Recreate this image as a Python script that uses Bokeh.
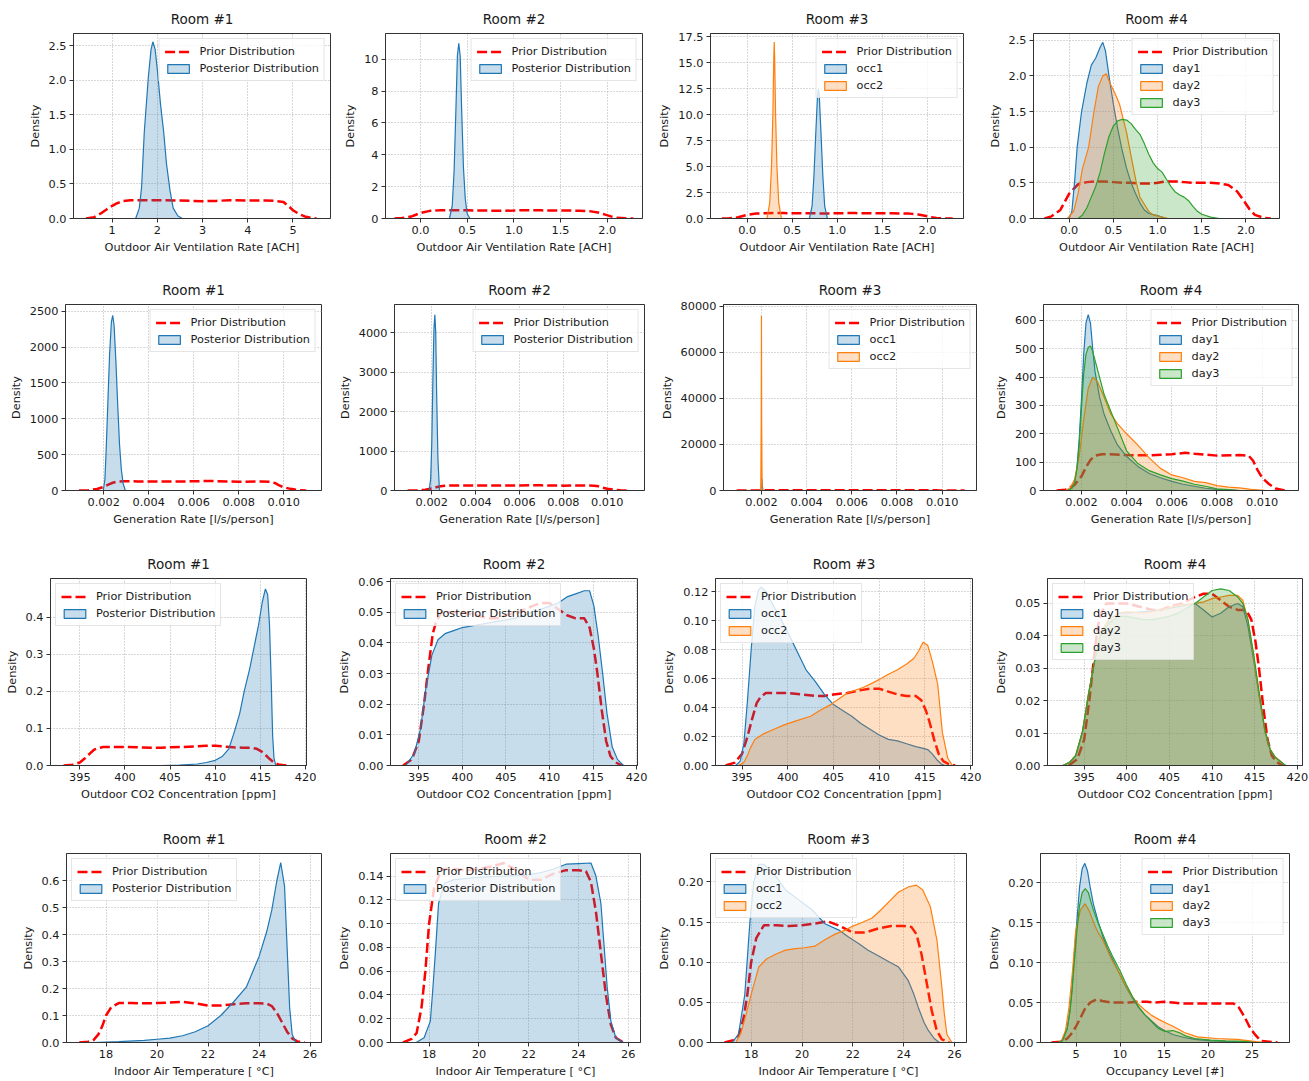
from bokeh.plotting import figure
from bokeh.layouts import column, row
from bokeh.models import Range1d, FixedTicker, PrintfTickFormatter, Legend, LegendItem
from bokeh.embed import file_html
from bokeh.resources import INLINE

# ---------------- DATA ----------------
room_titles = ["Room #1", "Room #2", "Room #3", "Room #4"]
row_xlabels = ["Outdoor Air Ventilation Rate [ACH]", "Generation Rate [l/s/person]",
               "Outdoor CO2 Concentration [ppm]", "Indoor Air Temperature [ \u00b0C]"]
xlabel_occ = "Occupancy Level [#]"
ylabel = "Density"
prior_label = "Prior Distribution"
post_label = "Posterior Distribution"
occ_labels = ["occ1", "occ2"]
day_labels = ["day1", "day2", "day3"]

# --- Row 1: ventilation rate ---
prior_vent1_x = [0.42, 0.6, 0.74, 0.85, 0.96, 1.1, 1.25, 1.4, 1.7, 2.0, 2.5, 3.0, 3.3, 3.6, 4.0, 4.4, 4.6, 4.79, 4.9, 5.0, 5.12, 5.26, 5.4, 5.52]
prior_vent1_y = [0, 0.02, 0.07, 0.12, 0.168, 0.22, 0.255, 0.265, 0.265, 0.265, 0.26, 0.25, 0.255, 0.265, 0.26, 0.26, 0.255, 0.24, 0.18, 0.12, 0.07, 0.03, 0.01, 0]
post_vent1_x = [1.52, 1.6, 1.65, 1.71, 1.8, 1.86, 1.9, 1.95, 2.0, 2.07, 2.14, 2.2, 2.28, 2.35, 2.45, 2.55]
post_vent1_y = [0, 0.15, 0.45, 1.25, 2.05, 2.45, 2.56, 2.45, 2.15, 1.65, 1.25, 0.8, 0.4, 0.15, 0.04, 0]

prior_vent_x = [-0.28, -0.2, -0.1, 0.0, 0.1, 0.2, 0.3, 0.4, 0.5, 0.6, 0.7, 0.8, 0.9, 1.0, 1.1, 1.2, 1.3, 1.4, 1.5, 1.6, 1.7, 1.8, 1.9, 1.97, 2.04, 2.1, 2.2, 2.28]
prior_vent_y = [0, 0.03, 0.12, 0.35, 0.48, 0.51, 0.52, 0.52, 0.51, 0.5, 0.5, 0.49, 0.49, 0.5, 0.52, 0.52, 0.51, 0.5, 0.5, 0.5, 0.49, 0.47, 0.38, 0.26, 0.13, 0.05, 0.01, 0]
post_vent2_x = [0.31, 0.34, 0.36, 0.38, 0.395, 0.41, 0.425, 0.44, 0.46, 0.48, 0.5, 0.53]
post_vent2_y = [0, 0.8, 3, 7, 10.2, 11.0, 10.2, 7, 3.2, 1.2, 0.3, 0]
occ1_vent3_x = [0.69, 0.72, 0.74, 0.76, 0.78, 0.79, 0.80, 0.82, 0.84, 0.86, 0.89]
occ1_vent3_y = [0, 1.2, 4, 8, 11.8, 12.5, 11.8, 8, 4, 1.2, 0]
occ2_vent3_x = [0.22, 0.25, 0.27, 0.285, 0.295, 0.30, 0.305, 0.315, 0.33, 0.35, 0.38]
occ2_vent3_y = [0, 1.5, 5, 10, 15.5, 17, 15.5, 10, 5, 1.5, 0]
day1_vent4_x = [0.0, 0.03, 0.06, 0.09, 0.14, 0.2, 0.25, 0.3, 0.35, 0.38, 0.41, 0.45, 0.5, 0.55, 0.6, 0.65, 0.7, 0.75, 0.8, 0.85, 0.9, 1.0, 1.05, 1.1]
day1_vent4_y = [0, 0.1, 0.5, 1.0, 1.5, 1.9, 2.15, 2.25, 2.4, 2.47, 2.35, 2.0, 1.6, 1.25, 0.95, 0.7, 0.5, 0.35, 0.22, 0.12, 0.07, 0.04, 0.02, 0]
day2_vent4_x = [-0.02, 0.05, 0.1, 0.15, 0.22, 0.28, 0.33, 0.38, 0.42, 0.46, 0.52, 0.57, 0.6, 0.65, 0.68, 0.72, 0.76, 0.8, 0.85, 0.9, 0.95, 1.05, 1.12]
day2_vent4_y = [0, 0.1, 0.35, 0.7, 1.0, 1.5, 1.85, 2.0, 2.03, 1.9, 1.75, 1.6, 1.45, 1.2, 1.0, 0.75, 0.5, 0.3, 0.2, 0.1, 0.05, 0.02, 0]
day3_vent4_x = [0.1, 0.15, 0.2, 0.25, 0.3, 0.35, 0.4, 0.45, 0.5, 0.55, 0.6, 0.65, 0.7, 0.75, 0.8, 0.85, 0.9, 0.95, 1.0, 1.05, 1.1, 1.15, 1.2, 1.25, 1.3, 1.35, 1.4, 1.45, 1.5, 1.6, 1.7]
day3_vent4_y = [0, 0.05, 0.15, 0.3, 0.45, 0.65, 0.92, 1.15, 1.3, 1.37, 1.39, 1.38, 1.33, 1.25, 1.18, 1.05, 0.9, 0.78, 0.7, 0.65, 0.55, 0.45, 0.37, 0.33, 0.3, 0.25, 0.17, 0.1, 0.06, 0.02, 0]

# --- Row 2: generation rate ---
prior_gen_x = [0.0009, 0.0013, 0.0017, 0.002, 0.0022, 0.0024, 0.0026, 0.0029, 0.0035, 0.004, 0.005, 0.006, 0.0066, 0.007, 0.008, 0.009, 0.0094, 0.0096, 0.0098, 0.01, 0.0103, 0.0106, 0.011]
prior_gen_y = [0, 3, 20, 50, 82, 108, 123, 128, 127, 125, 124, 128, 133, 130, 123, 125, 123, 105, 72, 45, 23, 7, 0]
post_gen1_x = [0.00198, 0.00205, 0.0021, 0.00218, 0.00226, 0.00234, 0.0024, 0.00246, 0.00254, 0.00262, 0.0027, 0.00278, 0.00286, 0.00296]
post_gen1_y = [0, 150, 500, 1200, 1900, 2350, 2440, 2300, 1800, 1200, 650, 300, 100, 0]
post_gen2_x = [0.00188, 0.00195, 0.002, 0.00205, 0.0021, 0.00214, 0.00218, 0.00222, 0.00228, 0.00235]
post_gen2_y = [0, 300, 1200, 2800, 4100, 4450, 4000, 2500, 800, 0]
occ1_gen3_x = [0.00198, 0.002, 0.00202, 0.00204, 0.00207]
occ1_gen3_y = [0, 2500, 5000, 2000, 0]
occ2_gen3_x = [0.00197, 0.00199, 0.002, 0.00201, 0.00203]
occ2_gen3_y = [0, 30000, 76000, 30000, 0]
day1_gen4_x = [0.0014, 0.0016, 0.0017, 0.0018, 0.0019, 0.002, 0.0021, 0.0022, 0.0023, 0.0024, 0.0025, 0.0026, 0.0028, 0.003, 0.0033, 0.0036, 0.004, 0.0045, 0.005, 0.0055, 0.006, 0.0065, 0.007, 0.0075, 0.008, 0.0085, 0.009]
day1_gen4_y = [0, 10, 30, 80, 180, 320, 480, 590, 620, 590, 500, 420, 330, 270, 210, 160, 120, 85, 60, 45, 32, 22, 15, 8, 4, 2, 0]
day2_gen4_x = [0.0013, 0.0015, 0.0017, 0.0019, 0.0021, 0.0023, 0.0025, 0.0027, 0.003, 0.0033, 0.0036, 0.004, 0.0045, 0.005, 0.0055, 0.006, 0.0065, 0.007, 0.0075, 0.008, 0.0085, 0.009, 0.0095, 0.0102]
day2_gen4_y = [0, 10, 40, 120, 250, 360, 400, 385, 330, 270, 235, 200, 160, 115, 78, 55, 45, 32, 28, 17, 12, 9, 4, 0]
day3_gen4_x = [0.0014, 0.0016, 0.0017, 0.0018, 0.0019, 0.002, 0.0021, 0.0022, 0.0023, 0.0024, 0.0025, 0.0027, 0.003, 0.0033, 0.0036, 0.004, 0.0045, 0.005, 0.0055, 0.006, 0.0065, 0.007, 0.0075, 0.008, 0.0085, 0.009]
day3_gen4_y = [0, 10, 30, 75, 160, 290, 410, 480, 505, 510, 490, 430, 340, 280, 220, 140, 95, 70, 55, 42, 33, 22, 15, 6, 3, 0]

# --- Row 3: outdoor CO2 ---
prior_co2_x = [393.2, 394.2, 395, 395.6, 396.1, 396.6, 397, 397.6, 398.5, 400, 401.5, 403, 404, 405, 406.5, 408, 409, 410, 411, 412, 413, 414, 414.6, 415.1, 415.5, 416, 416.5, 417, 417.6, 418.3]
prior_co2_y = [0, 0.002, 0.008, 0.02, 0.032, 0.043, 0.047, 0.05, 0.05, 0.05, 0.049, 0.048, 0.048, 0.049, 0.05, 0.052, 0.053, 0.053, 0.051, 0.049, 0.048, 0.048, 0.045, 0.038, 0.03, 0.018, 0.008, 0.003, 0.001, 0]
post_co2_1_x = [404, 406, 408, 409, 410, 410.8, 411.5, 412.1, 412.7, 413.2, 413.8, 414.3, 414.8, 415.2, 415.55, 415.8, 416.0, 416.2, 416.35, 416.5, 416.7]
post_co2_1_y = [0, 0.001, 0.004, 0.008, 0.014, 0.025, 0.045, 0.09, 0.14, 0.2, 0.26, 0.32, 0.38, 0.44, 0.476, 0.46, 0.38, 0.22, 0.08, 0.02, 0]
post_co2_2_x = [393.5, 394.5, 395.2, 395.8, 396.5, 397.2, 398, 399, 400, 402, 404, 406, 408, 410, 411, 412, 413, 414, 414.6, 415.1, 415.6, 416.1, 416.6, 417.2, 417.8, 418.5]
post_co2_2_y = [0, 0.004, 0.012, 0.025, 0.036, 0.041, 0.043, 0.044, 0.045, 0.046, 0.047, 0.048, 0.05, 0.052, 0.053, 0.055, 0.056, 0.057, 0.057, 0.052, 0.042, 0.03, 0.017, 0.006, 0.002, 0]
occ1_co2_3_x = [394.3, 394.8, 395.2, 395.6, 396.0, 396.4, 396.8, 397.1, 397.6, 398.2, 399, 400, 401, 402, 403, 404, 405, 406, 407, 408, 409, 410, 411, 412, 413, 414, 414.7, 415.3, 415.8, 416.3, 416.8, 417.2]
occ1_co2_3_y = [0, 0.003, 0.015, 0.045, 0.08, 0.11, 0.121, 0.123, 0.12, 0.113, 0.104, 0.092, 0.079, 0.066, 0.058, 0.049, 0.042, 0.038, 0.034, 0.029, 0.025, 0.021, 0.018, 0.017, 0.015, 0.013, 0.012, 0.011, 0.008, 0.004, 0.001, 0]
occ2_co2_3_x = [394.6, 395.2, 395.6, 395.9, 396.4, 397.4, 398.5, 399.6, 401, 402.5, 403.5, 404.7, 405.6, 406.5, 408.3, 409.3, 410.2, 411, 412, 413, 413.8, 414.3, 414.8, 415.3, 415.8, 416.4, 416.9, 417.5, 418]
occ2_co2_3_y = [0, 0.002, 0.007, 0.012, 0.018, 0.022, 0.025, 0.028, 0.031, 0.034, 0.038, 0.042, 0.046, 0.05, 0.054, 0.057, 0.06, 0.063, 0.066, 0.07, 0.074, 0.079, 0.085, 0.083, 0.072, 0.056, 0.023, 0.005, 0]
day1_co2_4_x = [392.5, 393.3, 394.0, 394.8, 395.5, 396.2, 396.9, 397.9, 399, 400, 402, 404, 406, 408, 409, 410, 411, 412, 413, 413.6, 414.2, 414.9, 415.5, 416.2, 416.8, 417.4, 418.6]
day1_co2_4_y = [0, 0.001, 0.003, 0.0103, 0.0216, 0.032, 0.041, 0.045, 0.047, 0.047, 0.0475, 0.048, 0.049, 0.05, 0.048, 0.0458, 0.047, 0.049, 0.05, 0.049, 0.043, 0.032, 0.0216, 0.0103, 0.005, 0.0026, 0]
day2_co2_4_x = [392.5, 393.3, 394.0, 394.8, 395.5, 396.2, 396.9, 397.9, 399, 400, 402, 404, 406, 408, 409, 410, 411, 412, 413, 413.6, 414.2, 414.9, 415.5, 416.2, 416.8, 417.4, 418.6]
day2_co2_4_y = [0, 0.001, 0.003, 0.0105, 0.022, 0.032, 0.041, 0.045, 0.047, 0.0475, 0.047, 0.048, 0.0495, 0.05, 0.0505, 0.0515, 0.052, 0.0525, 0.0525, 0.051, 0.045, 0.033, 0.022, 0.0105, 0.005, 0.0026, 0]
day3_co2_4_x = [392.5, 393.3, 394.0, 394.8, 395.5, 396.2, 396.9, 397.9, 399, 400, 401, 402, 403, 404, 405, 406, 407, 408, 409, 410, 411, 412, 413, 413.6, 414.2, 414.9, 415.5, 416.2, 416.8, 417.4, 418.6]
day3_co2_4_y = [0, 0.001, 0.003, 0.0105, 0.022, 0.032, 0.04, 0.044, 0.046, 0.046, 0.0455, 0.045, 0.045, 0.0455, 0.046, 0.047, 0.0485, 0.05, 0.052, 0.054, 0.0545, 0.054, 0.052, 0.05, 0.045, 0.034, 0.023, 0.011, 0.005, 0.0025, 0]

# --- Row 4: indoor temperature and occupancy ---
prior_temp_x = [16.95, 17.3, 17.5, 17.7, 17.85, 18.0, 18.2, 18.5, 19, 19.5, 20, 20.5, 21, 21.5, 22, 22.5, 23, 23.5, 24, 24.3, 24.5, 24.7, 24.9, 25.1, 25.3, 25.5, 25.8]
prior_temp_y = [0, 0.003, 0.008, 0.03, 0.06, 0.1, 0.13, 0.146, 0.146, 0.145, 0.146, 0.148, 0.151, 0.145, 0.137, 0.137, 0.142, 0.145, 0.145, 0.144, 0.135, 0.11, 0.075, 0.04, 0.015, 0.004, 0]
post_temp1_x = [17.5, 18.5, 19.5, 20, 20.5, 21, 21.5, 22, 22.5, 23, 23.5, 24, 24.3, 24.5, 24.7, 24.85, 25.0, 25.1, 25.2, 25.3, 25.45]
post_temp1_y = [0, 0.003, 0.008, 0.012, 0.016, 0.025, 0.04, 0.062, 0.1, 0.15, 0.205, 0.318, 0.41, 0.49, 0.6, 0.666, 0.58, 0.355, 0.13, 0.03, 0]
post_temp2_x = [17.48, 17.8, 18.05, 18.15, 18.25, 18.38, 18.62, 19, 20, 21, 22, 22.5, 23, 23.5, 24, 24.5, 24.7, 24.9, 25.0, 25.15, 25.3, 25.5, 25.8]
post_temp2_y = [0, 0.004, 0.018, 0.045, 0.075, 0.117, 0.134, 0.137, 0.139, 0.14, 0.141, 0.143, 0.146, 0.15, 0.1505, 0.151, 0.14, 0.117, 0.089, 0.047, 0.018, 0.004, 0]
occ1_temp3_x = [17.25, 17.5, 17.75, 17.95, 18.1, 18.3, 18.5, 18.9, 19.35, 19.9, 20.4, 20.9, 21.45, 21.8, 22.24, 22.6, 23.0, 23.4, 23.8, 24.18, 24.4, 24.57, 24.8, 24.97, 25.2, 25.4]
occ1_temp3_y = [0, 0.01, 0.06, 0.15, 0.2, 0.222, 0.222, 0.21, 0.19, 0.177, 0.165, 0.148, 0.14, 0.132, 0.123, 0.115, 0.108, 0.101, 0.094, 0.077, 0.06, 0.044, 0.025, 0.015, 0.005, 0]
occ2_temp3_x = [17.4, 17.6, 17.8, 18.0, 18.3, 18.6, 18.96, 19.35, 19.75, 20.1, 20.5, 20.9, 21.3, 21.7, 22.0, 22.4, 22.76, 23.1, 23.5, 23.8, 24.2, 24.5, 24.75, 25.05, 25.31, 25.5, 25.6, 25.7, 25.9]
occ2_temp3_y = [0, 0.012, 0.035, 0.06, 0.094, 0.104, 0.11, 0.115, 0.117, 0.118, 0.12, 0.128, 0.135, 0.14, 0.145, 0.15, 0.155, 0.165, 0.178, 0.1875, 0.194, 0.196, 0.19, 0.169, 0.127, 0.069, 0.035, 0.01, 0]
prior_occ_x = [2.2, 3.3, 4.0, 4.4, 5.0, 5.5, 6.0, 6.6, 7.3, 8, 9, 10, 11, 12, 13, 14, 15, 16, 17, 18, 19, 20, 21, 22, 22.9, 23.5, 24.2, 24.7, 25.3, 26, 27.9]
prior_occ_y = [0, 0.001, 0.005, 0.01, 0.02, 0.031, 0.042, 0.05, 0.054, 0.052, 0.05, 0.05, 0.05, 0.051, 0.051, 0.05, 0.051, 0.05, 0.049, 0.049, 0.049, 0.049, 0.049, 0.049, 0.049, 0.044, 0.031, 0.02, 0.0105, 0.002, 0]
day1_occ4_x = [3.0, 3.44, 4.0, 4.3, 4.55, 4.8, 5.1, 5.4, 5.7, 6.0, 6.3, 6.6, 6.96, 7.5, 8.07, 8.6, 9.2, 10, 10.7, 11.4, 12.1, 12.8, 13.6, 14.3, 15.1, 16, 17.3, 18.5, 20.3, 22, 24, 25.5]
day1_occ4_y = [0, 0.002, 0.019, 0.04, 0.069, 0.11, 0.153, 0.195, 0.218, 0.2245, 0.215, 0.195, 0.174, 0.152, 0.132, 0.117, 0.103, 0.085, 0.069, 0.056, 0.044, 0.035, 0.027, 0.02, 0.0147, 0.01, 0.0063, 0.004, 0.002, 0.0015, 0.001, 0]
day2_occ4_x = [2.9, 3.3, 3.8, 4.2, 4.6, 4.96, 5.5, 6.03, 6.5, 7, 7.5, 8.07, 9, 9.96, 10.7, 11.4, 12.1, 12.9, 13.6, 14.4, 15.1, 15.9, 16.6, 17.3, 18.8, 21.0, 23.3, 25.5, 26.5]
day2_occ4_y = [0, 0.001, 0.015, 0.044, 0.09, 0.14, 0.166, 0.174, 0.165, 0.15, 0.138, 0.128, 0.105, 0.086, 0.07, 0.057, 0.048, 0.04, 0.034, 0.029, 0.025, 0.021, 0.017, 0.0126, 0.007, 0.005, 0.004, 0.001, 0]
day3_occ4_x = [3.0, 3.44, 4.0, 4.3, 4.55, 4.8, 5.1, 5.4, 5.7, 6.05, 6.4, 6.7, 7.0, 7.5, 8.07, 8.6, 9.2, 10, 10.7, 11.4, 12.1, 12.8, 13.6, 14.3, 15.1, 16, 16.8, 17.5, 18.5, 20.3, 22, 24, 25.5]
day3_occ4_y = [0, 0.002, 0.017, 0.038, 0.065, 0.1, 0.14, 0.172, 0.188, 0.193, 0.188, 0.176, 0.165, 0.15, 0.135, 0.121, 0.107, 0.09, 0.073, 0.058, 0.045, 0.035, 0.026, 0.018, 0.014, 0.015, 0.012, 0.008, 0.005, 0.003, 0.002, 0.0015, 0]

# tick values
xt_vent1 = [1, 2, 3, 4, 5]
xt_vent = [0.0, 0.5, 1.0, 1.5, 2.0]
xt_gen = [0.002, 0.004, 0.006, 0.008, 0.010]
xt_co2 = [395, 400, 405, 410, 415, 420]
xt_temp = [18, 20, 22, 24, 26]
xt_occ = [5, 10, 15, 20, 25]
yt_r1 = [[0.0, 0.5, 1.0, 1.5, 2.0, 2.5], [0, 2, 4, 6, 8, 10], [0.0, 2.5, 5.0, 7.5, 10.0, 12.5, 15.0, 17.5], [0.0, 0.5, 1.0, 1.5, 2.0, 2.5]]
yt_r2 = [[0, 500, 1000, 1500, 2000, 2500], [0, 1000, 2000, 3000, 4000], [0, 20000, 40000, 60000, 80000], [0, 100, 200, 300, 400, 500, 600]]
yt_r3 = [[0.0, 0.1, 0.2, 0.3, 0.4], [0.0, 0.01, 0.02, 0.03, 0.04, 0.05, 0.06], [0.0, 0.02, 0.04, 0.06, 0.08, 0.10, 0.12], [0.0, 0.01, 0.02, 0.03, 0.04, 0.05]]
yt_r4 = [[0.0, 0.1, 0.2, 0.3, 0.4, 0.5, 0.6], [0.0, 0.02, 0.04, 0.06, 0.08, 0.10, 0.12, 0.14], [0.0, 0.05, 0.10, 0.15, 0.20], [0.0, 0.05, 0.10, 0.15, 0.20]]

# ---------------- STYLE / LAYOUT ----------------
BLUE, ORANGE, GREEN, RED = "#1f77b4", "#ff7f0e", "#2ca02c", "#ff0000"
FONT = "DejaVu Sans"
TXT = "#1a1a1a"
SPINE = "#333333"
col_w = [335, 320, 330, 324]
row_h = [270, 275, 275, 260]
lr = [[(73, 5), (50, 13), (53, 22), (39, 30)],
      [(65, 14), (53, 11), (68, 9), (58, 11)],
      [(50, 29), (46, 18), (60, 13), (62, 7)],
      [(66, 14), (50, 15), (55, 19), (49, 20)]]
tb = [(33, 52), (34, 55), (33, 55), (33, 38)]


def panel(r, c, title, xlabel, xr, ytop, xt, xfmt, yt, yfmt, prior, posts, loc):
    L, R = lr[r][c]
    T, B = tb[r]
    p = figure(width=col_w[c], height=row_h[r], x_range=Range1d(*xr), y_range=Range1d(0, ytop),
               output_backend="svg", toolbar_location=None,
               min_border_left=L, min_border_right=R, min_border_top=T, min_border_bottom=B)
    p.title.text = title
    p.title.align = "center"
    p.title.text_font = FONT
    p.title.text_font_size = "13.5px"
    p.title.text_font_style = "normal"
    p.title.text_color = TXT
    p.title.standoff = 14
    p.outline_line_color = SPINE
    p.outline_line_width = 1
    p.background_fill_color = "white"
    for ax, ticks, fmt in ((p.xaxis[0], xt, xfmt), (p.yaxis[0], yt, yfmt)):
        ax.ticker = FixedTicker(ticks=ticks)
        ax.formatter = PrintfTickFormatter(format=fmt)
        ax.major_label_text_font = FONT
        ax.major_label_text_font_size = "11.3px"
        ax.major_label_text_color = TXT
        ax.axis_label_text_font = FONT
        ax.axis_label_text_font_size = "11.3px"
        ax.axis_label_text_font_style = "normal"
        ax.axis_label_text_color = TXT
        ax.axis_line_color = SPINE
        ax.major_tick_line_color = SPINE
        ax.major_tick_out = 4
        ax.major_tick_in = 0
        ax.minor_tick_line_color = None
        ax.major_label_standoff = 3
        ax.axis_label_standoff = 4
    p.xaxis.axis_label = xlabel
    p.yaxis.axis_label = ylabel
    for g in (p.xgrid[0], p.ygrid[0]):
        g.grid_line_color = "#b0b0b0"
        g.grid_line_dash = "1 2"
        g.grid_line_width = 1
    items = []
    lr_ = p.line(prior[0], prior[1], line_color=RED, line_dash="10 4", line_width=2.5)
    rends = []
    for name, xs, ys, color in posts:
        pr = p.patch(xs, ys, fill_color=color, fill_alpha=0.25, line_color=color, line_width=1.2)
        rends.append((name, pr))
    items.append(LegendItem(label=prior_label, renderers=[lr_]))
    for name, pr in rends:
        items.append(LegendItem(label=name, renderers=[pr]))
    leg = Legend(items=items, location=loc, margin=5, padding=5, spacing=3,
                 glyph_width=27, glyph_height=11, label_height=14, label_standoff=8,
                 label_text_font=FONT, label_text_font_size="11.3px", label_text_color=TXT,
                 border_line_color="#cccccc", border_line_width=1,
                 background_fill_color="white", background_fill_alpha=0.8)
    p.add_layout(leg)
    return p


def one(x, y):
    return [(post_label, x, y, BLUE)]


def occs(x1, y1, x2, y2):
    return [(occ_labels[0], x1, y1, BLUE), (occ_labels[1], x2, y2, ORANGE)]


def days(x1, y1, x2, y2, x3, y3):
    return [(day_labels[0], x1, y1, BLUE), (day_labels[1], x2, y2, ORANGE), (day_labels[2], x3, y3, GREEN)]


rows = []
xl = row_xlabels[0]
rows.append(row(
    panel(0, 0, room_titles[0], xl, (0.144, 5.83), 2.68, xt_vent1, "%d", yt_r1[0], "%.1f", (prior_vent1_x, prior_vent1_y), one(post_vent1_x, post_vent1_y), "top_right"),
    panel(0, 1, room_titles[1], xl, (-0.375, 2.378), 11.61, xt_vent, "%.1f", yt_r1[1], "%d", (prior_vent_x, prior_vent_y), one(post_vent2_x, post_vent2_y), "top_right"),
    panel(0, 2, room_titles[2], xl, (-0.407, 2.40), 17.83, xt_vent, "%.1f", yt_r1[2], "%.1f", (prior_vent_x, prior_vent_y), occs(occ1_vent3_x, occ1_vent3_y, occ2_vent3_x, occ2_vent3_y), "top_right"),
    panel(0, 3, room_titles[3], xl, (-0.404, 2.379), 2.594, xt_vent, "%.1f", yt_r1[3], "%.1f", (prior_vent_x, prior_vent_y), days(day1_vent4_x, day1_vent4_y, day2_vent4_x, day2_vent4_y, day3_vent4_x, day3_vent4_y), "top_right"),
))
xl = row_xlabels[1]
rows.append(row(
    panel(1, 0, room_titles[0], xl, (0.0003, 0.01168), 2593, xt_gen, "%.3f", yt_r2[0], "%d", (prior_gen_x, prior_gen_y), one(post_gen1_x, post_gen1_y), "top_right"),
    panel(1, 1, room_titles[1], xl, (0.0003, 0.0117), 4710, xt_gen, "%.3f", yt_r2[1], "%d", (prior_gen_x, prior_gen_y), one(post_gen2_x, post_gen2_y), "top_right"),
    panel(1, 2, room_titles[2], xl, (0.00032, 0.01152), 80740, xt_gen, "%.3f", yt_r2[2], "%d", (prior_gen_x, prior_gen_y), occs(occ1_gen3_x, occ1_gen3_y, occ2_gen3_x, occ2_gen3_y), "top_right"),
    panel(1, 3, room_titles[3], xl, (0.00032, 0.01161), 656, xt_gen, "%.3f", yt_r2[3], "%d", (prior_gen_x, prior_gen_y), days(day1_gen4_x, day1_gen4_y, day2_gen4_x, day2_gen4_y, day3_gen4_x, day3_gen4_y), "top_right"),
))
xl = row_xlabels[2]
rows.append(row(
    panel(2, 0, room_titles[0], xl, (391.75, 420.1), 0.504, xt_co2, "%d", yt_r3[0], "%.1f", (prior_co2_x, prior_co2_y), one(post_co2_1_x, post_co2_1_y), "top_left"),
    panel(2, 1, room_titles[1], xl, (391.75, 420.1), 0.061, xt_co2, "%d", yt_r3[1], "%.2f", (prior_co2_x, prior_co2_y), one(post_co2_2_x, post_co2_2_y), "top_left"),
    panel(2, 2, room_titles[2], xl, (392.1, 420.2), 0.129, xt_co2, "%d", yt_r3[2], "%.2f", (prior_co2_x, prior_co2_y), occs(occ1_co2_3_x, occ1_co2_3_y, occ2_co2_3_x, occ2_co2_3_y), "top_left"),
    panel(2, 3, room_titles[3], xl, (390.7, 420.6), 0.0577, xt_co2, "%d", yt_r3[3], "%.2f", (prior_co2_x, prior_co2_y), days(day1_co2_4_x, day1_co2_4_y, day2_co2_4_x, day2_co2_4_y, day3_co2_4_x, day3_co2_4_y), "top_left"),
))
xl = row_xlabels[3]
rows.append(row(
    panel(3, 0, room_titles[0], xl, (16.45, 26.45), 0.70, xt_temp, "%d", yt_r4[0], "%.1f", (prior_temp_x, prior_temp_y), one(post_temp1_x, post_temp1_y), "top_left"),
    panel(3, 1, room_titles[1], xl, (16.45, 26.49), 0.159, xt_temp, "%d", yt_r4[1], "%.2f", (prior_temp_x, prior_temp_y), one(post_temp2_x, post_temp2_y), "top_left"),
    panel(3, 2, room_titles[2], xl, (16.4, 26.47), 0.2354, xt_temp, "%d", yt_r4[2], "%.2f", (prior_temp_x, prior_temp_y), occs(occ1_temp3_x, occ1_temp3_y, occ2_temp3_x, occ2_temp3_y), "top_left"),
    panel(3, 3, room_titles[3], xlabel_occ, (0.96, 29.26), 0.2369, xt_occ, "%d", yt_r4[3], "%.2f", (prior_occ_x, prior_occ_y), days(day1_occ4_x, day1_occ4_y, day2_occ4_x, day2_occ4_y, day3_occ4_x, day3_occ4_y), "top_right"),
))

layout = column(*rows)
open("out.html", "w").write(file_html(layout, INLINE))
